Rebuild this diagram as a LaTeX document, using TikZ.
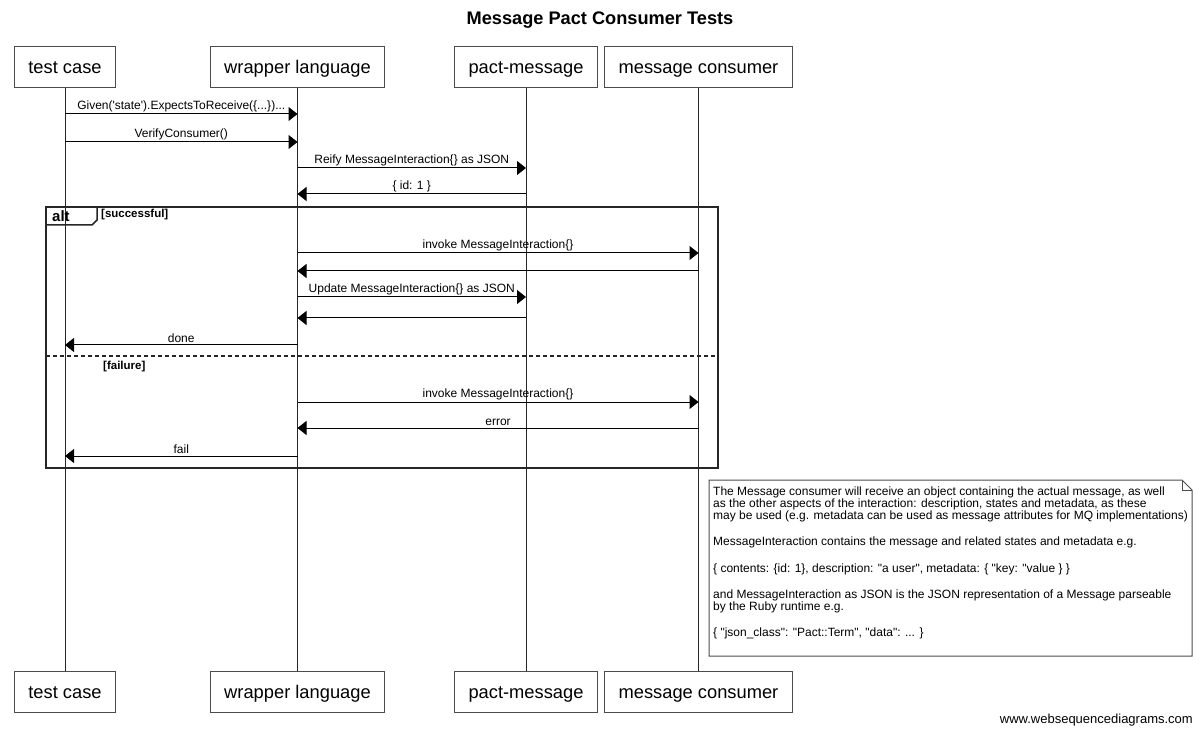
\documentclass[tikz,border=0pt]{standalone}
\usepackage{fontspec}
\setmainfont{Liberation Sans}[Ligatures=TeXOff]
\usetikzlibrary{arrows.meta}

\begin{document}
\begin{tikzpicture}[x=1pt,y=1pt]

    \tikzset{
      actor/.style={
        draw=black!70,
        line width=1pt,
        minimum height=41pt,
        inner xsep=14pt,
        text height=17pt,
        text depth=4pt,
        font=\fontsize{18.3}{20}\selectfont,
      },
      lifeline/.style={draw=black!85,line width=1pt},
      msg/.style={draw=black,line width=1pt,-{Triangle[length=9pt,width=14pt]}},
      lbl/.style={midway,above,inner sep=1.5pt,font=\fontsize{12}{12}\selectfont},
      guard/.style={anchor=north west,inner sep=1pt,font=\bfseries\fontsize{11.5}{12}\selectfont},
      frame/.style={draw=black!85,line width=1.5pt},
    }
    \useasboundingbox (0,0) rectangle (1200,-735);

	\node[font=\bfseries\fontsize{18.2}{20}\selectfont] (title) at (600,-20) {Message Pact Consumer Tests};

	\node[actor] (tc) at (65,-67.5) {test case};
	\node[actor] (wl) at (297.5,-67.5) {wrapper language};
	\node[actor] (pm) at (526,-67.5) {pact-message};
	\node[actor] (mc) at (698.5,-67.5) {message consumer};
	\node[actor] (tcb) at (65,-692) {test case};
	\node[actor] (wlb) at (297.5,-692) {wrapper language};
	\node[actor] (pmb) at (526,-692) {pact-message};
	\node[actor] (mcb) at (698.5,-692) {message consumer};

	\draw[lifeline] (tc) -- (tcb);
	\draw[lifeline] (wl) -- (wlb);
	\draw[lifeline] (pm) -- (pmb);
	\draw[lifeline] (mc) -- (mcb);

	\coordinate (r1) at (0,-114);
	\coordinate (r2) at (0,-142);
	\coordinate (r3) at (0,-168);
	\coordinate (r4) at (0,-194);
	\coordinate (r5) at (0,-253);
	\coordinate (r6) at (0,-271);
	\coordinate (r7) at (0,-297);
	\coordinate (r8) at (0,-318);
	\coordinate (r9) at (0,-345);
	\coordinate (r10) at (0,-402);
	\coordinate (r11) at (0,-428);
	\coordinate (r12) at (0,-456);

	\draw[msg] (tc |- r1) -- (wl |- r1) node[lbl] {Given('state').ExpectsToReceive(\{...\})...};
	\draw[msg] (tc |- r2) -- (wl |- r2) node[lbl] {VerifyConsumer()};
	\draw[msg] (wl |- r3) -- (pm |- r3) node[lbl] {Reify MessageInteraction\{\} as JSON};
	\draw[msg] (pm |- r4) -- (wl |- r4) node[lbl] {\{ id: 1 \}};

	\draw[frame] (46,-207) rectangle (718,-468);
	\draw[frame] (46,-225) -- (92,-225) -- (97,-220) -- (97,-207);
	\node[anchor=west,inner sep=0pt,font=\bfseries\fontsize{15}{16}\selectfont] (alt) at (52,-216) {alt};
	\node[guard] (ok) at (100,-208) {[successful]};
	\draw[frame,dash pattern=on 4pt off 3pt] (46,-356) -- (718,-356);
	\node[guard] (ko) at (102,-360) {[failure]};

	\draw[msg] (wl |- r5) -- (mc |- r5) node[lbl] {invoke MessageInteraction\{\}};
	\draw[msg] (mc |- r6) -- (wl |- r6);
	\draw[msg] (wl |- r7) -- (pm |- r7) node[lbl] {Update MessageInteraction\{\} as JSON};
	\draw[msg] (pm |- r8) -- (wl |- r8);
	\draw[msg] (wl |- r9) -- (tc |- r9) node[lbl] {done};
	\draw[msg] (wl |- r10) -- (mc |- r10) node[lbl] {invoke MessageInteraction\{\}};
	\draw[msg] (mc |- r11) -- (wl |- r11) node[lbl] {error};
	\draw[msg] (wl |- r12) -- (tc |- r12) node[lbl] {fail};

	\draw[draw=black!70,line width=1pt] (709,-480) -- (1182,-480) -- (1192,-490) -- (1192,-656) -- (709,-656) -- cycle;
	\draw[draw=black!70,line width=1pt] (1182,-480) -- (1182,-490) -- (1192,-490);
	\node[anchor=north west,inner sep=0pt,align=left,font=\fontsize{12}{11.8}\selectfont] (note) at (713,-487)
	  {The Message consumer will receive an object containing the actual message, as well\\
	   as the other aspects of the interaction: description, states and metadata, as these\\
	   may be used (e.g. metadata can be used as message attributes for MQ implementations)\\[14.5pt]
	   MessageInteraction contains the message and related states and metadata e.g.\\[14.5pt]
	   \{ contents: \{id: 1\}, description: "a user", metadata: \{ "key: "value \} \}\\[14.5pt]
	   and MessageInteraction as JSON is the JSON representation of a Message parseable\\
	   by the Ruby runtime e.g.\\[14.5pt]
	   \{ "json\_class": "Pact::Term", "data": ... \}};

	\node[anchor=east,inner sep=0pt,font=\fontsize{13}{14}\selectfont] (www) at (1193,-720) {www.websequencediagrams.com};

\end{tikzpicture}
\end{document}
